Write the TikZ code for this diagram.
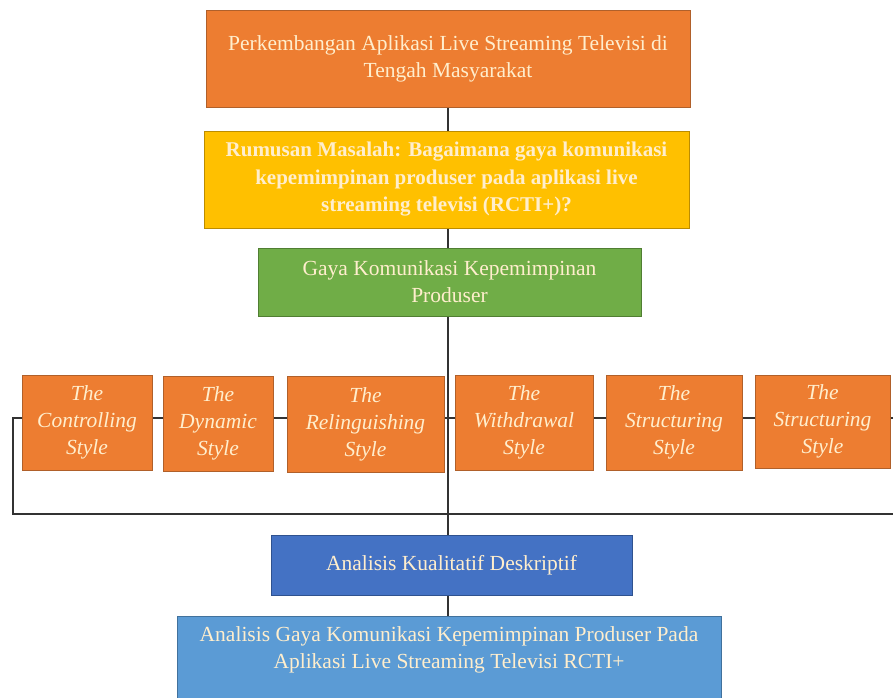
\documentclass[tikz,border=0pt]{standalone}
\usepackage{fontspec}
\setmainfont{Liberation Serif}
\usetikzlibrary{backgrounds}
\definecolor{orfill}{HTML}{ED7D31}\definecolor{ordraw}{HTML}{B0602A}
\definecolor{yefill}{HTML}{FFC000}\definecolor{yedraw}{HTML}{BC8C00}
\definecolor{grfill}{HTML}{70AD47}\definecolor{grdraw}{HTML}{507E32}
\definecolor{dbfill}{HTML}{4472C4}\definecolor{dbdraw}{HTML}{2F528F}
\definecolor{lbfill}{HTML}{5B9BD5}\definecolor{lbdraw}{HTML}{41719C}
\definecolor{txtc}{RGB}{255,238,205}
\definecolor{linec}{RGB}{50,50,50}
\tikzset{
  box/.style={rectangle, inner sep=0pt, outer sep=0pt, line width=1pt, align=center,
    text=txtc, font=\fontsize{21.5}{27}\selectfont},
  orbox/.style={box, fill=orfill, draw=ordraw},
  yebox/.style={box, fill=yefill, draw=yedraw, font=\fontsize{21}{27.5}\selectfont\bfseries},
  grbox/.style={box, fill=grfill, draw=grdraw},
  dbbox/.style={box, fill=dbfill, draw=dbdraw},
  lbbox/.style={box, fill=lbfill, draw=lbdraw},
  stybox/.style={orbox, font=\fontsize{21.5}{27}\selectfont\itshape},
  conn/.style={draw=linec, line width=2pt}
}
\newcommand{\stytext}[1]{\raisebox{-3pt}{\begin{tabular}{@{}c@{}}#1\end{tabular}}}
\begin{document}
\begin{tikzpicture}[x=1pt,y=-1pt]
\useasboundingbox (0,0) rectangle (893,697);
\node[orbox, minimum width=484pt, minimum height=97pt] (top) at (448,58.5)
  {\raisebox{2pt}{\begin{tabular}{@{}c@{}}Perkembangan Aplikasi Live Streaming Televisi di\\Tengah Masyarakat\end{tabular}}};
\node[yebox, minimum width=485pt, minimum height=97pt] (rm) at (446.5,179.5)
  {Rumusan Masalah: Bagaimana gaya komunikasi\\kepemimpinan produser pada aplikasi live\\streaming televisi (RCTI+)?};
\node[grbox, minimum width=383pt, minimum height=68pt] (gaya) at (449.5,282)
  {Gaya Komunikasi Kepemimpinan\\Produser};
\node[stybox, minimum width=130pt, minimum height=95pt] (s1) at (87,422.5) {\stytext{The\\Controlling\\Style}};
\node[stybox, minimum width=110pt, minimum height=95pt] (s2) at (218,423.5) {\stytext{The\\Dynamic\\Style}};
\node[stybox, minimum width=157pt, minimum height=96pt] (s3) at (365.5,424) {\stytext{The\\Relinguishing\\Style}};
\node[stybox, minimum width=138pt, minimum height=95pt] (s4) at (524,422.5) {\stytext{The\\Withdrawal\\Style}};
\node[stybox, minimum width=136pt, minimum height=95pt] (s5) at (674,422.5) {\stytext{The\\Structuring\\Style}};
\node[stybox, minimum width=135pt, minimum height=93pt] (s6) at (822.5,421.5) {\stytext{The\\Structuring\\Style}};
\node[dbbox, minimum width=361pt, minimum height=60pt] (ak) at (451.5,565) {Analisis Kualitatif Deskriptif};
\node[lbbox, minimum width=544pt, minimum height=88pt, anchor=north] (fin) at (449,616) {};
\node[box, align=center] (fintext) at (449,650)
  {Analisis Gaya Komunikasi Kepemimpinan Produser Pada\\Aplikasi Live Streaming Televisi RCTI+};
\coordinate (rowR) at (893,418);
\coordinate (loopR) at (893,514);
\begin{pgfonlayer}{background}
  \draw[conn] (top.south) -- (top.south |- fin.north);
  \draw[conn] (s1.west |- rowR) -- (rowR);
  \draw[conn] (s1.west |- rowR) -- ++(-9,0) |- (loopR);
\end{pgfonlayer}
\end{tikzpicture}
\end{document}
